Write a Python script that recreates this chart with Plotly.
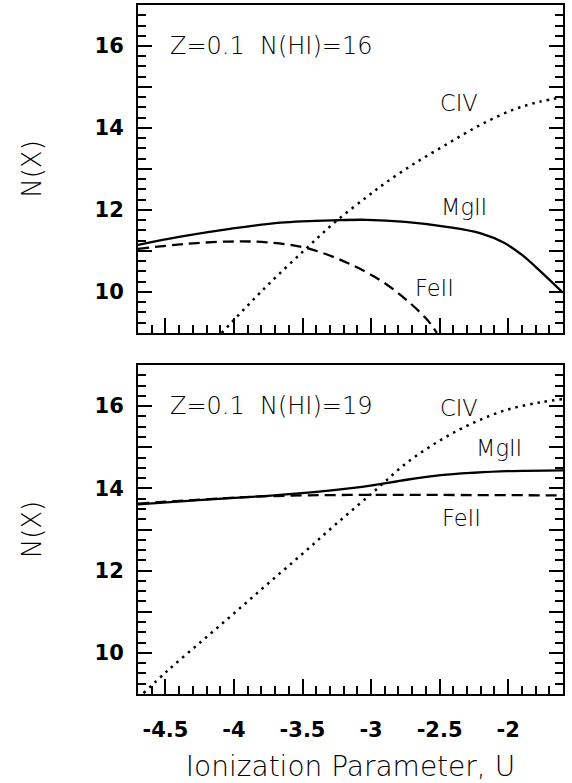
import plotly.graph_objects as go

# ---------------- data ----------------
# Top panel: Z=0.1, N(HI)=16
u_mg16 = [-4.70, -4.39, -4.03, -3.66, -3.25, -3.03, -2.75, -2.45, -2.20, -2.03, -1.89, -1.77, -1.60]
n_mg16 = [11.15, 11.35, 11.54, 11.69, 11.75, 11.76, 11.71, 11.59, 11.43, 11.20, 10.88, 10.52, 9.98]

u_fe16 = [-4.70, -4.36, -4.03, -3.76, -3.47, -3.18, -2.93, -2.74, -2.59, -2.52]
n_fe16 = [11.05, 11.17, 11.23, 11.21, 11.07, 10.72, 10.28, 9.80, 9.32, 9.00]

u_civ16 = [-4.09, -3.78, -3.47, -3.25, -3.03, -2.90, -2.69, -2.45, -2.20, -1.96, -1.77, -1.60]
n_civ16 = [9.00, 10.08, 11.07, 11.74, 12.32, 12.65, 13.12, 13.60, 14.08, 14.45, 14.64, 14.75]

# Bottom panel: Z=0.1, N(HI)=19
u_mg19 = [-4.70, -4.23, -3.75, -3.38, -3.16, -2.98, -2.74, -2.49, -2.25, -2.01, -1.60]
n_mg19 = [13.61, 13.72, 13.82, 13.92, 14.00, 14.08, 14.21, 14.32, 14.38, 14.42, 14.44]

u_fe19 = [-4.70, -4.23, -3.75, -3.16, -2.50, -1.60]
n_fe19 = [13.63, 13.73, 13.81, 13.84, 13.84, 13.83]

u_civ19 = [-4.66, -4.48, -4.23, -3.99, -3.75, -3.50, -3.26, -2.98, -2.74, -2.49, -2.25, -2.01, -1.77, -1.60]
n_civ19 = [9.02, 9.58, 10.30, 10.99, 11.69, 12.41, 13.12, 13.92, 14.62, 15.18, 15.60, 15.91, 16.09, 16.17]

# tick labels
x_tickvals = [-4.5, -4.0, -3.5, -3.0, -2.5, -2.0]
x_ticktext = ["-4.5", "-4", "-3.5", "-3", "-2.5", "-2"]
y_tickvals = [9, 10, 11, 12, 13, 14, 15, 16, 17]
y_ticktext = ["", "10", "", "12", "", "14", "", "16", ""]

# text labels
panel_titles = ["Z=0.1  N(HI)=16", "Z=0.1  N(HI)=19"]
species = ["CIV", "MgII", "FeII"]
label_pos16 = [(-2.36, 14.60), (-2.32, 12.08), (-2.54, 10.09)]
label_pos19 = [(-2.36, 15.95), (-2.07, 14.98), (-2.34, 13.27)]

# ---------------- figure ----------------
fig = go.Figure()

solid = dict(color="black", width=2.3)
dashed = dict(color="black", width=2.3, dash="11px,6px")
dotted = dict(color="black", width=2.5, dash="2.5px,5px")

def add(u, n, line, xa, ya):
    fig.add_trace(go.Scatter(x=u, y=n, mode="lines", line=dict(**line, shape="spline", smoothing=1.0),
                             xaxis=xa, yaxis=ya, showlegend=False, hoverinfo="skip"))

add(u_mg16, n_mg16, solid, "x2", "y2")
add(u_fe16, n_fe16, dashed, "x2", "y2")
add(u_civ16, n_civ16, dotted, "x2", "y2")
add(u_mg19, n_mg19, solid, "x", "y")
add(u_fe19, n_fe19, dashed, "x", "y")
add(u_civ19, n_civ19, dotted, "x", "y")

thin_family = "DejaVu Sans"
title_font = dict(family=thin_family, size=24, color="black", weight=200)
label_font = dict(family=thin_family, size=22.5, color="black", weight=200)
bold = dict(family="DejaVu Sans", size=21, color="black", weight="bold")

annotations = []
for (xr_, yr_), title, pos in [(("x2", "y2"), panel_titles[0], label_pos16),
                               (("x", "y"), panel_titles[1], label_pos19)]:
    annotations.append(dict(x=-4.48, y=16.0, xref=xr_, yref=yr_, text=title, showarrow=False,
                            xanchor="left", yanchor="middle", font=title_font))
    for name, (px, py) in zip(species, pos):
        annotations.append(dict(x=px, y=py, xref=xr_, yref=yr_, text=name, showarrow=False,
                                xanchor="center", yanchor="middle", font=label_font))

xr = [-4.7, -1.6]
yr = [9, 17]

common_x = dict(range=xr, showgrid=False, zeroline=False, showline=True, linecolor="black",
                linewidth=2, mirror=True, ticks="inside", ticklen=15, tickwidth=1.8,
                tickcolor="black", tickmode="array", tickvals=x_tickvals, ticktext=x_ticktext,
                minor=dict(dtick=0.1, tick0=-4.5, ticks="inside", ticklen=8, tickwidth=1.8,
                           tickcolor="black", showgrid=False),
                tickfont=bold, automargin=False)
common_y = dict(range=yr, showgrid=False, zeroline=False, showline=True, linecolor="black",
                linewidth=2, mirror="ticks", ticks="inside", ticklen=14, tickwidth=1.8,
                tickcolor="black", tickmode="array", tickvals=y_tickvals, ticktext=y_ticktext,
                minor=dict(dtick=0.25, tick0=9, ticks="inside", ticklen=8, tickwidth=1.8,
                           tickcolor="black", showgrid=False),
                tickfont=bold, ticklabelstandoff=8, automargin=False,
                title=dict(text="N(X)", font=dict(family=thin_family, size=26, color="black", weight=200),
                           standoff=45))

fig.update_layout(
    width=572, height=783,
    margin=dict(l=138, r=9, t=5, b=89, autoexpand=False),
    paper_bgcolor="white", plot_bgcolor="white",
    xaxis=dict(**common_x, anchor="y", ticklabelstandoff=16,
               title=dict(text="Ionization Parameter, U",
                          font=dict(family=thin_family, size=28, color="black", weight=200),
                          standoff=17)),
    yaxis=dict(**common_y, domain=[0, 0.4775], anchor="x"),
    xaxis2=dict(**common_x, anchor="y2", matches="x", showticklabels=False),
    yaxis2=dict(**common_y, domain=[0.524, 1], anchor="x2"),
    annotations=annotations,
)

fig.write_html("out.html", config={"displayModeBar": False},
               post_script="document.body.style.margin='0';")
